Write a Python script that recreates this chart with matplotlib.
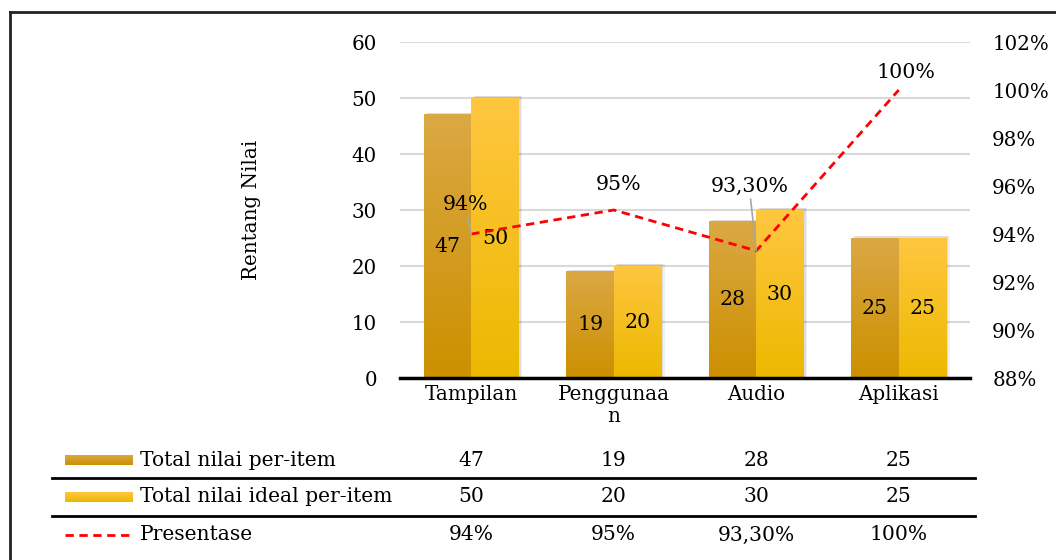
import matplotlib
matplotlib.use("Agg")
import matplotlib.pyplot as plt
import numpy as np
from matplotlib import transforms
from matplotlib.patches import Rectangle
from matplotlib.lines import Line2D

# ---- data ----
categories = ["Tampilan", "Penggunaa\nn", "Audio", "Aplikasi"]
total_nilai = [47, 19, 28, 25]
total_ideal = [50, 20, 30, 25]
presentase = [94, 95, 93.3, 100]
presentase_labels = ["94%", "95%", "93,30%", "100%"]
series_names = ["Total nilai per-item", "Total nilai ideal per-item", "Presentase"]
left_ticks = [0, 10, 20, 30, 40, 50, 60]
right_ticks = [88, 90, 92, 94, 96, 98, 100, 102]

FONT = "DejaVu Serif"
plt.rcParams["font.family"] = FONT
FS = 14.3

W, H = 1056, 560
fig = plt.figure(figsize=(W / 100, H / 100), dpi=100)
fig.patch.set_facecolor("white")

ax = fig.add_axes([400 / W, (H - 378) / H, 570 / W, 336 / H])
ax.set_xlim(-0.5, len(categories) - 0.5)
ax.set_ylim(0, 60)
ax.set_zorder(1)

# gradient colours (top, bottom)
grad1 = (np.array([219, 168, 68]) / 255, np.array([204, 144, 0]) / 255)
grad2 = (np.array([255, 198, 64]) / 255, np.array([236, 185, 0]) / 255)


def gradient_img(top, bottom, n=64):
    t = np.linspace(0, 1, n)[:, None]
    img = top[None, :] * (1 - t) + bottom[None, :] * t
    return img[:, None, :]


bw = 1 / 3
x = np.arange(len(categories))
for vals, grad, off in [(total_nilai, grad1, -bw / 2), (total_ideal, grad2, bw / 2)]:
    for xi, v in zip(x, vals):
        x0 = xi + off - bw / 2
        # soft shadow
        for k, a in [(0.025, 0.06), (0.015, 0.08)]:
            ax.add_patch(Rectangle((x0 + k, 0), bw, v + 0.3, facecolor="black",
                                   alpha=a, edgecolor="none", zorder=2))
        ax.imshow(gradient_img(*grad), extent=(x0, x0 + bw, 0, v), aspect="auto",
                  zorder=3, interpolation="bilinear")
        ax.text(xi + off, v / 2, str(v), ha="center", va="center",
                fontsize=FS + 0.5, color="black", zorder=6)

ax.set_xlim(-0.5, len(categories) - 0.5)
ax.set_ylim(0, 60)
ax.set_yticks(left_ticks)
ax.grid(axis="y", color="#d9d9d9", lw=1.5)
ax.set_axisbelow(True)
ax.set_xticks([])
for s in ["left", "right", "top"]:
    ax.spines[s].set_visible(False)
ax.spines["bottom"].set_color("black")
ax.spines["bottom"].set_linewidth(2.5)
ax.spines["bottom"].set_zorder(7)
ax.tick_params(axis="y", length=0, pad=16.5, labelsize=FS)
ax.set_ylabel("Rentang Nilai", fontsize=FS, labelpad=65)

# secondary axis for the percentage line
ax2 = ax.twinx()
ax2.set_ylim(88, 102)
ax2.set_yticks(right_ticks)
ax2.set_yticklabels([f"{t}%" for t in right_ticks])
ax2.tick_params(axis="y", length=0, pad=16, labelsize=FS)
for s in ["left", "right", "top", "bottom"]:
    ax2.spines[s].set_visible(False)
ax2.set_zorder(2)
ax2.patch.set_visible(False)
ax2.plot(x, presentase, color="#ff0000", lw=2, ls=(0, (3, 2)), zorder=5)

offsets = [(-6, 29), (5, 25), (-7, 64), (7, 18)]
leaders = [True, False, True, False]
for xi, p, lab, off, ld in zip(x, presentase, presentase_labels, offsets, leaders):
    kw = {}
    if ld:
        kw["arrowprops"] = dict(arrowstyle="-", color="#a6a6a6", lw=1.2,
                                shrinkA=0, shrinkB=0)
    ax2.annotate(lab, (xi, p), xytext=off, textcoords="offset pixels",
                 ha="center", va="center", fontsize=FS + 0.5, zorder=8, **kw)

# category labels
tr = transforms.blended_transform_factory(ax.transData, fig.transFigure)
for xi, c in zip(x, categories):
    fig.text(xi, 1 - 385 / H, c, transform=tr, ha="center", va="top",
             fontsize=FS, linespacing=1.2)

# data table below the chart
row_y = [460, 497, 535]
rows = [[str(v) for v in total_nilai], [str(v) for v in total_ideal], presentase_labels]
for ry, vals, name in zip(row_y, rows, series_names):
    fy = 1 - ry / H
    fig.text(140 / W, fy, name, ha="left", va="center", fontsize=FS + 0.3)
    for xi, v in zip(x, vals):
        fig.text(xi, fy, v, transform=tr, ha="center", va="center", fontsize=FS + 0.3)

for ly in [478, 516]:
    fig.add_artist(Line2D([52 / W, 975 / W], [1 - ly / H] * 2, color="black", lw=2))

# legend keys
for ry, grad in zip(row_y[:2], [grad1, grad2]):
    kax = fig.add_axes([65 / W, 1 - (ry + 5) / H, 68 / W, 10 / H])
    kax.imshow(gradient_img(*grad), aspect="auto", extent=(0, 1, 0, 1),
               interpolation="bilinear")
    kax.set_axis_off()
fig.add_artist(Line2D([65 / W, 133 / W], [1 - row_y[2] / H] * 2, color="#ff0000",
                      lw=2, ls=(0, (3, 2))))

# outer frame (left and top edges)
fig.add_artist(Line2D([9.5 / W, 9.5 / W], [0, 1 - 12 / H], color="#222222", lw=2))
fig.add_artist(Line2D([9.5 / W, 1], [1 - 12 / H] * 2, color="#222222", lw=2))

fig.savefig("out.png", dpi=100, facecolor="white")
